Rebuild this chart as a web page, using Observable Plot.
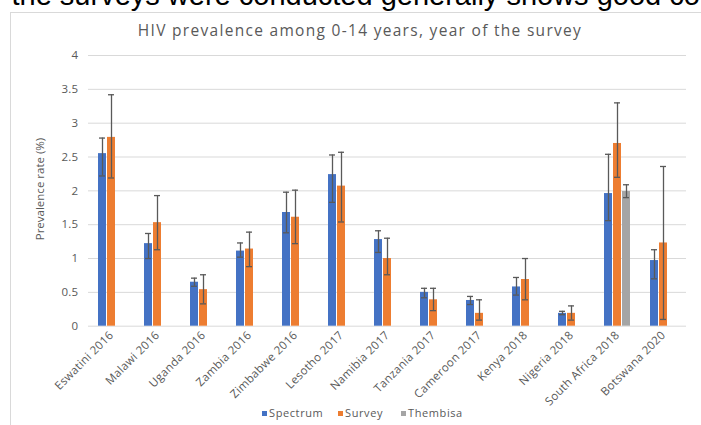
<!DOCTYPE html>
<html>
<head>
<meta charset="utf-8">
<script src="https://cdn.jsdelivr.net/npm/d3@7"></script>
<script src="https://cdn.jsdelivr.net/npm/@observablehq/plot@0.6"></script>
<style>
  html, body { margin: 0; padding: 0; background: #fff; }
  #wrap { position: relative; width: 701px; height: 425px; overflow: hidden; }
  #wrap svg { position: absolute; left: 0; top: 0; }
</style>
</head>
<body>
<div id="wrap"></div>
<script>
// Survey-year HIV prevalence among children aged 0-14 (%)
const countries = [
  "Eswatini 2016", "Malawi 2016", "Uganda 2016", "Zambia 2016", "Zimbabwe 2016",
  "Lesotho 2017", "Namibia 2017", "Tanzania 2017", "Cameroon 2017", "Kenya 2018",
  "Nigeria 2018", "South Africa 2018", "Botswana 2020"
];
const seriesNames = ["Spectrum", "Survey", "Thembisa"];
const seriesColors = ["#4472C4", "#ED7D31", "#A5A5A5"];

const spectrum   = [2.55, 1.22, 0.65, 1.11, 1.68, 2.24, 1.28, 0.50, 0.38, 0.58, 0.19, 1.96, 0.97];
const spectrumLo = [2.22, 1.00, 0.59, 1.02, 1.38, 1.83, 1.09, 0.42, 0.32, 0.46, 0.17, 1.56, 0.70];
const spectrumHi = [2.78, 1.37, 0.71, 1.23, 1.98, 2.53, 1.41, 0.56, 0.44, 0.72, 0.22, 2.54, 1.13];

const survey     = [2.79, 1.53, 0.54, 1.14, 1.61, 2.07, 1.00, 0.39, 0.19, 0.69, 0.19, 2.70, 1.23];
const surveyLo   = [2.19, 1.13, 0.33, 0.88, 1.22, 1.54, 0.76, 0.23, 0.09, 0.39, 0.09, 2.20, 0.10];
const surveyHi   = [3.42, 1.93, 0.76, 1.39, 2.01, 2.57, 1.30, 0.56, 0.39, 1.00, 0.30, 3.30, 2.36];

// Thembisa model estimate, South Africa only
const thembisaCountry = "South Africa 2018";
const thembisa   = 1.99;
const thembisaLo = 1.90;
const thembisaHi = 2.09;

const yTicks = [0, 0.5, 1, 1.5, 2, 2.5, 3, 3.5, 4];

const rows = [];
countries.forEach((c, i) => {
  rows.push({country: c, series: "Spectrum", value: spectrum[i], lo: spectrumLo[i], hi: spectrumHi[i]});
  rows.push({country: c, series: "Survey", value: survey[i], lo: surveyLo[i], hi: surveyHi[i]});
});
rows.push({country: thembisaCountry, series: "Thembisa", value: thembisa, lo: thembisaLo, hi: thembisaHi});

const font = "'Open Sans', 'DejaVu Sans', sans-serif";
const errColor = "#595959";

const chart = Plot.plot({
  width: 701,
  height: 425,
  marginLeft: 82,
  marginRight: 9,
  marginTop: 55,
  marginBottom: 99.3,
  style: {fontFamily: font, fontSize: "11.5px", color: "#595959", background: "transparent", letterSpacing: "0.3px"},
  fx: {domain: countries, paddingInner: 0, paddingOuter: 0, label: null, tickRotate: -45, tickSize: 0, tickPadding: 7},
  x: {domain: seriesNames, paddingInner: 0.15, paddingOuter: 0.92, axis: null},
  y: {domain: [0, 4], label: null},
  color: {domain: seriesNames, range: seriesColors},
  marks: [
    Plot.gridY(yTicks, {stroke: "#d9d9d9", strokeOpacity: 1, strokeWidth: 1}),
    Plot.axisY(yTicks, {tickSize: 0, tickPadding: 10, fontSize: 11.5, label: null, tickFormat: d => String(d)}),
    Plot.barY(rows, {fx: "country", x: "series", y: "value", fill: "series"}),
    Plot.ruleX(rows, {fx: "country", x: "series", y1: "lo", y2: "hi", stroke: errColor, strokeWidth: 1.3}),
    Plot.tickY(rows, {fx: "country", x: "series", y: "lo", insetLeft: 1, insetRight: 1, stroke: errColor, strokeWidth: 1.3}),
    Plot.tickY(rows, {fx: "country", x: "series", y: "hi", insetLeft: 1, insetRight: 1, stroke: errColor, strokeWidth: 1.3})
  ]
});

const wrap = d3.select("#wrap");

// Frame, page text, chart title, axis title and legend drawn behind the plot
const deco = wrap.append("svg").attr("width", 701).attr("height", 425);
deco.append("rect")
  .attr("x", 10.5).attr("y", 12.5).attr("width", 720).attr("height", 440)
  .attr("fill", "none").attr("stroke", "#d9d9d9");
deco.append("text")
  .attr("x", 11.5).attr("y", 5)
  .attr("font-family", "'Liberation Sans', Arial, sans-serif").attr("font-size", 29)
  .attr("fill", "#000")
  .text("the surveys were conducted generally shows good concordance");
deco.append("text")
  .attr("x", 360).attr("y", 36).attr("text-anchor", "middle")
  .attr("font-family", font).attr("font-size", 15.5).attr("letter-spacing", 1.3).attr("fill", "#595959")
  .text("HIV prevalence among 0-14 years, year of the survey");
deco.append("text")
  .attr("transform", "translate(44,189) rotate(-90)").attr("text-anchor", "middle")
  .attr("font-family", font).attr("font-size", 11.5).attr("fill", "#595959")
  .text("Prevalence rate (%)");

const legendX = [262, 338, 401];
const legend = deco.append("g").attr("font-family", font).attr("font-size", 11).attr("letter-spacing", 0.6).attr("fill", "#595959");
seriesNames.forEach((name, i) => {
  legend.append("rect").attr("x", legendX[i]).attr("y", 411).attr("width", 5).attr("height", 5).attr("fill", seriesColors[i]);
  legend.append("text").attr("x", legendX[i] + 7).attr("y", 416.5).text(name);
});

wrap.node().appendChild(chart);
</script>
</body>
</html>
